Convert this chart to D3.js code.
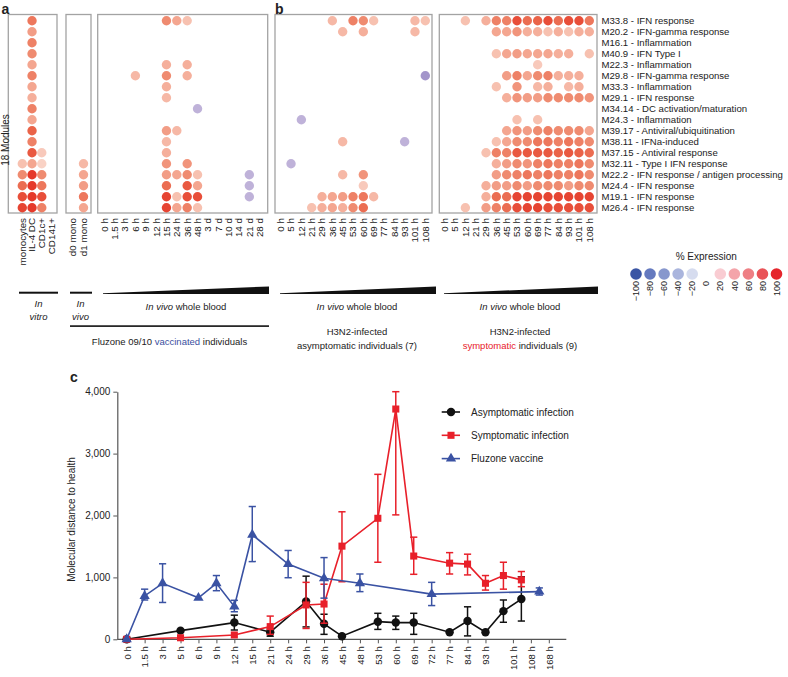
<!DOCTYPE html>
<html><head><meta charset="utf-8">
<script src="https://cdn.jsdelivr.net/npm/d3@7"></script>
<style>body{margin:0;background:#fff}svg{display:block}text{font-family:"Liberation Sans",Arial,sans-serif;fill:#222}</style>
</head><body><svg id="chart" width="788" height="677"></svg>
<script>
// ---------- DATA ----------
const modules = ["M33.8 - IFN response","M20.2 - IFN-gamma response","M16.1 - Inflammation","M40.9 - IFN Type I","M22.3 - Inflammation","M29.8 - IFN-gamma response","M33.3 - Inflammation","M29.1 - IFN response","M34.14 - DC activation/maturation","M24.3 - Inflammation","M39.17 - Antiviral/ubiquitination","M38.11 - IFNa-induced","M37.15 - Antiviral response","M32.11 - Type I IFN response","M22.2 - IFN response / antigen processing","M24.4 - IFN response","M19.1 - IFN response","M26.4 - IFN response"];

const invitroCols = ["monocytes","IL-4 DC","CD1c+","CD141+"];
const invitroVals = [
 [0,70,0,0],[0,50,0,0],[0,65,0,0],[0,60,0,0],[0,45,0,0],[0,65,0,0],[0,45,0,0],[0,40,0,0],[0,65,0,0],
 [0,45,0,0],[0,80,0,0],[0,65,0,0],[0,85,25,0],[30,45,20,0],[60,100,60,0],[75,100,70,0],[90,100,90,0],[95,100,65,0]];

const invivoCols = ["d0 mono","d1 mono"];
const invivoVals = [
 [0,0],[0,0],[0,0],[0,0],[0,0],[0,0],[0,0],[0,0],[0,0],[0,0],[0,0],[0,0],[0,0],[0,35],[0,45],[0,50],[0,70],[0,45]];

const fluzoneCols = ["0 h","1.5 h","3 h","6 h","9 h","12 h","15 h","24 h","36 h","48 h","3 d","7 d","10 d","14 d","21 d","28 d"];
const fluzoneVals = [
 [0,0,0,0,0,0,60,45,30,0,0,0,0,0,0,0],
 [0,0,0,0,0,0,0,0,0,0,0,0,0,0,0,0],
 [0,0,0,0,0,0,0,0,0,0,0,0,0,0,0,0],
 [0,0,0,0,0,0,0,0,0,0,0,0,0,0,0,0],
 [0,0,0,0,0,0,40,0,40,0,0,0,0,0,0,0],
 [0,0,0,35,0,0,60,0,40,0,0,0,0,0,0,0],
 [0,0,0,0,0,0,40,0,0,0,0,0,0,0,0,0],
 [0,0,0,0,0,0,35,0,0,0,0,0,0,0,0,0],
 [0,0,0,0,0,0,0,0,0,-25,0,0,0,0,0,0],
 [0,0,0,0,0,0,0,0,0,0,0,0,0,0,0,0],
 [0,0,0,0,0,0,50,35,0,0,0,0,0,0,0,0],
 [0,0,0,0,0,0,35,0,0,0,0,0,0,0,0,0],
 [0,0,0,0,0,0,40,0,0,0,0,0,0,0,0,0],
 [0,0,0,0,0,0,55,0,55,0,0,0,0,0,0,0],
 [0,0,0,0,0,0,50,45,60,30,0,0,0,0,-25,0],
 [0,0,0,0,0,0,75,0,85,45,0,0,0,0,-25,0],
 [0,0,0,0,0,0,95,30,90,90,0,0,0,0,-25,0],
 [0,0,0,0,0,0,95,45,65,30,0,0,0,0,0,0]];

const infectionCols = ["0 h","5 h","12 h","21 h","29 h","36 h","45 h","53 h","60 h","69 h","77 h","84 h","93 h","101 h","108 h"];
const asymVals = [
 [0,0,0,0,0,35,0,65,60,30,0,0,0,35,30],
 [0,0,0,0,0,0,35,0,40,0,0,0,0,35,0],
 [0,0,0,0,0,0,0,0,0,0,0,0,0,0,0],
 [0,0,0,0,0,0,0,0,0,0,0,0,0,0,0],
 [0,0,0,0,0,0,0,0,0,0,0,0,0,0,0],
 [0,0,0,0,0,0,0,0,0,0,0,0,0,0,-45],
 [0,0,0,0,0,0,0,0,0,0,0,0,0,0,0],
 [0,0,0,0,0,0,0,0,0,0,0,0,0,0,0],
 [0,0,0,0,0,0,0,0,0,0,0,0,0,0,0],
 [0,0,-25,0,0,0,0,0,0,0,0,0,0,0,0],
 [0,0,0,0,0,0,0,0,0,0,0,0,0,0,0],
 [0,0,0,0,0,0,35,0,0,0,0,0,-25,0,0],
 [0,0,0,0,0,0,0,0,0,0,0,0,0,0,0],
 [0,-25,0,0,0,0,0,0,0,0,0,0,0,0,0],
 [0,0,0,0,0,0,35,0,55,0,0,0,0,0,0],
 [0,0,0,0,0,0,0,0,25,0,0,0,0,0,0],
 [0,0,0,0,40,45,50,65,70,35,0,0,0,0,0],
 [0,0,0,30,40,45,40,60,75,0,0,0,0,0,0]];
const symVals = [
 [0,0,30,0,40,65,65,90,75,80,90,75,90,90,70],
 [0,0,0,0,0,45,45,55,40,40,30,40,30,40,40],
 [0,0,0,0,0,0,0,0,0,0,0,0,0,0,0],
 [0,0,0,0,0,30,45,50,45,45,45,40,40,0,30],
 [0,0,0,0,0,0,0,0,0,25,0,0,0,0,0],
 [0,0,0,0,0,0,50,65,45,60,65,40,40,40,0],
 [0,0,0,0,0,30,0,55,0,35,40,0,35,40,0],
 [0,0,0,0,0,0,40,55,50,50,60,60,60,60,55],
 [0,0,0,0,0,0,0,0,0,0,0,0,0,0,0],
 [0,0,0,0,0,0,0,30,0,30,0,0,0,0,0],
 [0,0,0,0,0,0,45,55,50,60,65,60,60,60,45],
 [0,0,0,0,0,30,45,60,60,70,70,65,70,65,60],
 [0,0,0,0,30,65,65,85,85,85,85,80,85,80,75],
 [0,0,0,0,0,40,50,60,55,65,70,65,65,70,60],
 [0,0,0,0,0,50,60,65,70,65,70,65,65,70,60],
 [0,0,0,0,40,50,50,60,50,60,60,60,50,60,60],
 [0,0,0,0,40,75,75,95,95,95,95,95,95,95,95],
 [0,0,30,0,50,65,75,90,95,95,90,90,90,90,90]];

const legendVals = [-100,-80,-60,-40,-20,0,20,40,60,80,100];

// panel c
const timeCats = ["0 h","1.5 h","3 h","5 h","6 h","9 h","12 h","15 h","21 h","24 h","29 h","36 h","45 h","48 h","53 h","60 h","69 h","72 h","77 h","84 h","93 h","101 h","108 h","168 h"];
const infTimes = ["0 h","5 h","12 h","21 h","29 h","36 h","45 h","53 h","60 h","69 h","77 h","84 h","93 h","101 h","108 h"];
const asymMean = [0,140,270,115,610,250,50,285,270,270,115,295,115,455,650];
const asymLo   = [0,140,150,50,200,80,50,160,160,80,115,55,115,275,295];
const asymHi   = [0,140,390,170,1020,405,50,420,375,420,115,525,115,635,1010];
const symMean  = [0,25,70,205,555,570,1505,1955,3720,1345,1230,1215,905,1030,960];
const symLo    = [0,25,70,80,175,260,930,1245,2010,1050,1055,1040,795,810,850];
const symHi    = [0,25,70,375,920,890,2060,2665,4000,1650,1400,1375,1030,1245,1095];
const fluTimes = ["0 h","1.5 h","3 h","6 h","9 h","12 h","15 h","24 h","36 h","48 h","72 h","168 h"];
const fluMean  = [0,700,905,670,905,530,1690,1215,985,905,730,770];
const fluLo    = [0,635,595,670,785,445,1255,995,665,770,545,715];
const fluHi    = [0,810,1220,670,1030,630,2145,1435,1320,1055,920,830];
const yTicks = [0,1000,2000,3000,4000];
const seriesNames = ["Asymptomatic infection","Symptomatic infection","Fluzone vaccine"];

// ---------- DRAW ----------
const svg = d3.select("#chart");
const dotColor = d3.scaleLinear()
  .domain([-100,-40,-20,0,20,40,60,80,100])
  .range(["#6a5cae","#a89acd","#c7badd","#ffffff","#f9d2c5","#f5af9b","#ef8b70","#ea6348","#e5392a"]);
const legColor = d3.scaleLinear()
  .domain([-100,-80,-60,-40,-20,0,20,40,60,80,100])
  .range(["#3a55a4","#6479bf","#8797cd","#aab5dd","#d6dcef","#ffffff","#f9ccd2","#f4a4aa","#ee7f84","#e95257","#e5252c"]);

const yRow = d3.scalePoint().domain(d3.range(18)).range([20.7, 207.7]);
const R = 4.7;

function dotPanel(cols, vals, xr, box) {
  const g = svg.append("g");
  const x = d3.scalePoint().domain(cols).range(xr);
  g.append("rect").attr("x", box[0]).attr("y", 14.5).attr("width", box[1]-box[0]).attr("height", 198.5)
    .attr("fill","none").attr("stroke","#a3a3a3").attr("stroke-width",1.3);
  const cells = vals.flatMap((row,i)=>row.map((v,j)=>({r:i,c:cols[j],v}))).filter(d=>d.v!==0);
  g.selectAll("circle").data(cells).join("circle")
    .attr("cx", d=>x(d.c)).attr("cy", d=>yRow(d.r)).attr("r", R).attr("fill", d=>dotColor(d.v));
  g.selectAll("text.cl").data(cols).join("text").attr("class","cl")
    .attr("transform", d=>`translate(${x(d)},218) rotate(-90)`)
    .attr("text-anchor","end").attr("dy","0.35em").style("font-size","9.8px").text(d=>d);
}
dotPanel(invitroCols, invitroVals, [22.3, 51.5], [8.3, 57]);
dotPanel(invivoCols, invivoVals, [73, 83.5], [66, 91]);
dotPanel(fluzoneCols, fluzoneVals, [104.3, 259.7], [97.7, 267.7]);
dotPanel(infectionCols, asymVals, [280.7, 425.3], [275, 432]);
dotPanel(infectionCols, symVals, [444.7, 589.3], [439.3, 597]);

svg.selectAll("text.mod").data(modules).join("text").attr("class","mod")
  .attr("x", 601.5).attr("y", (d,i)=>yRow(i)).attr("dy","0.35em").style("font-size","9.6px").text(d=>d);

svg.append("text").attr("x",1.5).attr("y",13.5).style("font-size","14px").style("font-weight","bold").text("a");
svg.append("text").attr("x",275).attr("y",13.5).style("font-size","14px").style("font-weight","bold").text("b");
svg.append("text").attr("transform","translate(9,140) rotate(-90)").attr("text-anchor","middle")
  .style("font-size","10px").text("18 Modules");

// legend % Expression
const lx = d3.scalePoint().domain(legendVals).range([636, 776.5]);
svg.append("text").attr("x",(636+776.5)/2).attr("y",259.5).attr("text-anchor","middle").style("font-size","10px").text("% Expression");
svg.selectAll("circle.lg").data(legendVals.filter(v=>v!==0)).join("circle").attr("class","lg")
  .attr("cx", d=>lx(d)).attr("cy",274).attr("r",5.8).attr("fill", d=>legColor(d));
svg.selectAll("text.lg").data(legendVals).join("text").attr("class","lg")
  .attr("transform", d=>`translate(${lx(d)},281) rotate(-90)`).attr("text-anchor","end").attr("dy","0.35em")
  .style("font-size","9px").text(d=>d<0?"\u2212"+(-d):d);

// annotations under panels
const ann = svg.append("g");
ann.append("rect").attr("x",19).attr("y",291.7).attr("width",39).attr("height",2).attr("fill","#111");
ann.append("rect").attr("x",70).attr("y",291.7).attr("width",22).attr("height",2).attr("fill","#111");
[[103,269],[280,436],[444,598]].forEach(w=>{
  ann.append("path").attr("d",`M${w[0]},293.2 L${w[1]},286.5 L${w[1]},294 L${w[0]},294 Z`).attr("fill","#111");
});
ann.append("rect").attr("x",70).attr("y",325.3).attr("width",199).attr("height",1.6).attr("fill","#111");
function tx(x,y,parts,size){
  const t = ann.append("text").attr("x",x).attr("y",y).attr("text-anchor","middle").style("font-size",(size||9.5)+"px");
  parts.forEach(p=>{ const s=t.append("tspan").text(p[0]); if(p[1]) s.style("font-style","italic"); if(p[2]) s.style("fill",p[2]); });
}
tx(38.5,306.5,[["In",1]]); tx(38.5,319.5,[["vitro",1]]);
tx(80.5,306.5,[["In",1]]); tx(80.5,319.5,[["vivo",1]]);
tx(186,310,[["In vivo",1],[" whole blood"]]);
tx(357,310,[["In vivo",1],[" whole blood"]]);
tx(520,310,[["In vivo",1],[" whole blood"]]);
tx(169.5,345,[["Fluzone 09/10 "],["vaccinated",0,"#3b4fa0"],[" individuals"]]);
tx(357,335,[["H3N2-infected"]]); tx(357,348.5,[["asymptomatic individuals (7)"]]);
tx(520,335,[["H3N2-infected"]]); tx(520,348.5,[["symptomatic",0,"#e8202a"],[" individuals (9)"]]);

// ---------- PANEL C ----------
const cg = svg.append("g");
const x = d3.scalePoint().domain(timeCats).range([126.7, 539.3]);
const y = d3.scaleLinear().domain([0,4000]).range([639.3, 391.7]);
const axX0 = 117.3;
cg.append("text").attr("x",70).attr("y",382).style("font-size","14px").style("font-weight","bold").text("c");

const ya = cg.append("g").attr("transform",`translate(${axX0},0)`)
  .call(d3.axisLeft(y).tickValues(yTicks).tickFormat(d3.format(",")).tickSize(4).tickSizeOuter(0).tickPadding(3));
ya.select(".domain").attr("stroke","#555").attr("stroke-width",1.2);
ya.selectAll(".tick line").attr("stroke","#555");
ya.selectAll("text").style("font-size","10px").style("font-family","'Liberation Sans',Arial,sans-serif").attr("fill","#333");
cg.append("text").attr("transform",`translate(74.5,${(y(0)+y(4000))/2+4}) rotate(-90)`).attr("text-anchor","middle")
  .style("font-size","10px").text("Molecular distance to health");

const xa = cg.append("g").attr("transform",`translate(0,${y(0)})`)
  .call(d3.axisBottom(x).tickSize(4).tickSizeOuter(0));
xa.select(".domain").remove();
cg.append("line").attr("x1",axX0).attr("x2",x.range()[1]+27).attr("y1",y(0)).attr("y2",y(0)).attr("stroke","#555").attr("stroke-width",1.2);
xa.selectAll(".tick line").attr("stroke","#555");
xa.selectAll(".tick text").attr("x",-7).attr("y",0).attr("dy","0.35em").attr("transform","rotate(-90)")
  .style("text-anchor","end").style("font-size","9.5px").style("font-family","'Liberation Sans',Arial,sans-serif").attr("fill","#333");
xa.selectAll(".tick").filter((d,i)=>i>=21).attr("transform", d=>`translate(${x(d)+10},0)`);

function series(times, mean, lo, hi, color, sym) {
  const pts = times.map((t,i)=>({t, m:mean[i], lo:lo[i], hi:hi[i]}));
  const g = cg.append("g");
  g.append("path").datum(pts).attr("fill","none").attr("stroke",color).attr("stroke-width",1.6)
    .attr("d", d3.line().x(d=>x(d.t)).y(d=>y(d.m)));
  const eb = pts.filter(d=>d.hi>d.lo);
  g.selectAll("line.v").data(eb).join("line").attr("class","v").attr("x1",d=>x(d.t)).attr("x2",d=>x(d.t))
    .attr("y1",d=>y(d.lo)).attr("y2",d=>y(d.hi)).attr("stroke",color).attr("stroke-width",1.5);
  ["lo","hi"].forEach(k=>{
    g.selectAll("line."+k).data(eb).join("line").attr("class",k).attr("x1",d=>x(d.t)-3.6).attr("x2",d=>x(d.t)+3.6)
      .attr("y1",d=>y(d[k])).attr("y2",d=>y(d[k])).attr("stroke",color).attr("stroke-width",1.5);
  });
  g.selectAll("path.m").data(pts).join("path").attr("class","m")
    .attr("transform",d=>`translate(${x(d.t)},${y(d.m)})`).attr("d", d3.symbol().type(sym.type).size(sym.size)).attr("fill",color);
}
const cols = ["#111111","#e8202a","#3a52a3"];
const syms = [{type:d3.symbolCircle,size:56},{type:d3.symbolSquare,size:50},{type:d3.symbolTriangle,size:46}];
series(infTimes, asymMean, asymLo, asymHi, cols[0], syms[0]);
series(infTimes, symMean, symLo, symHi, cols[1], syms[1]);
series(fluTimes, fluMean, fluLo, fluHi, cols[2], syms[2]);

const lg = cg.append("g");
seriesNames.forEach((n,i)=>{
  const yy = 412 + i*23.3;
  lg.append("line").attr("x1",441.7).attr("x2",460).attr("y1",yy).attr("y2",yy).attr("stroke",cols[i]).attr("stroke-width",1.6);
  lg.append("path").attr("transform",`translate(451,${yy})`).attr("d",d3.symbol().type(syms[i].type).size(syms[i].size)).attr("fill",cols[i]);
  lg.append("text").attr("x",471).attr("y",yy).attr("dy","0.35em").style("font-size","10px").text(n);
});
</script></body></html>
